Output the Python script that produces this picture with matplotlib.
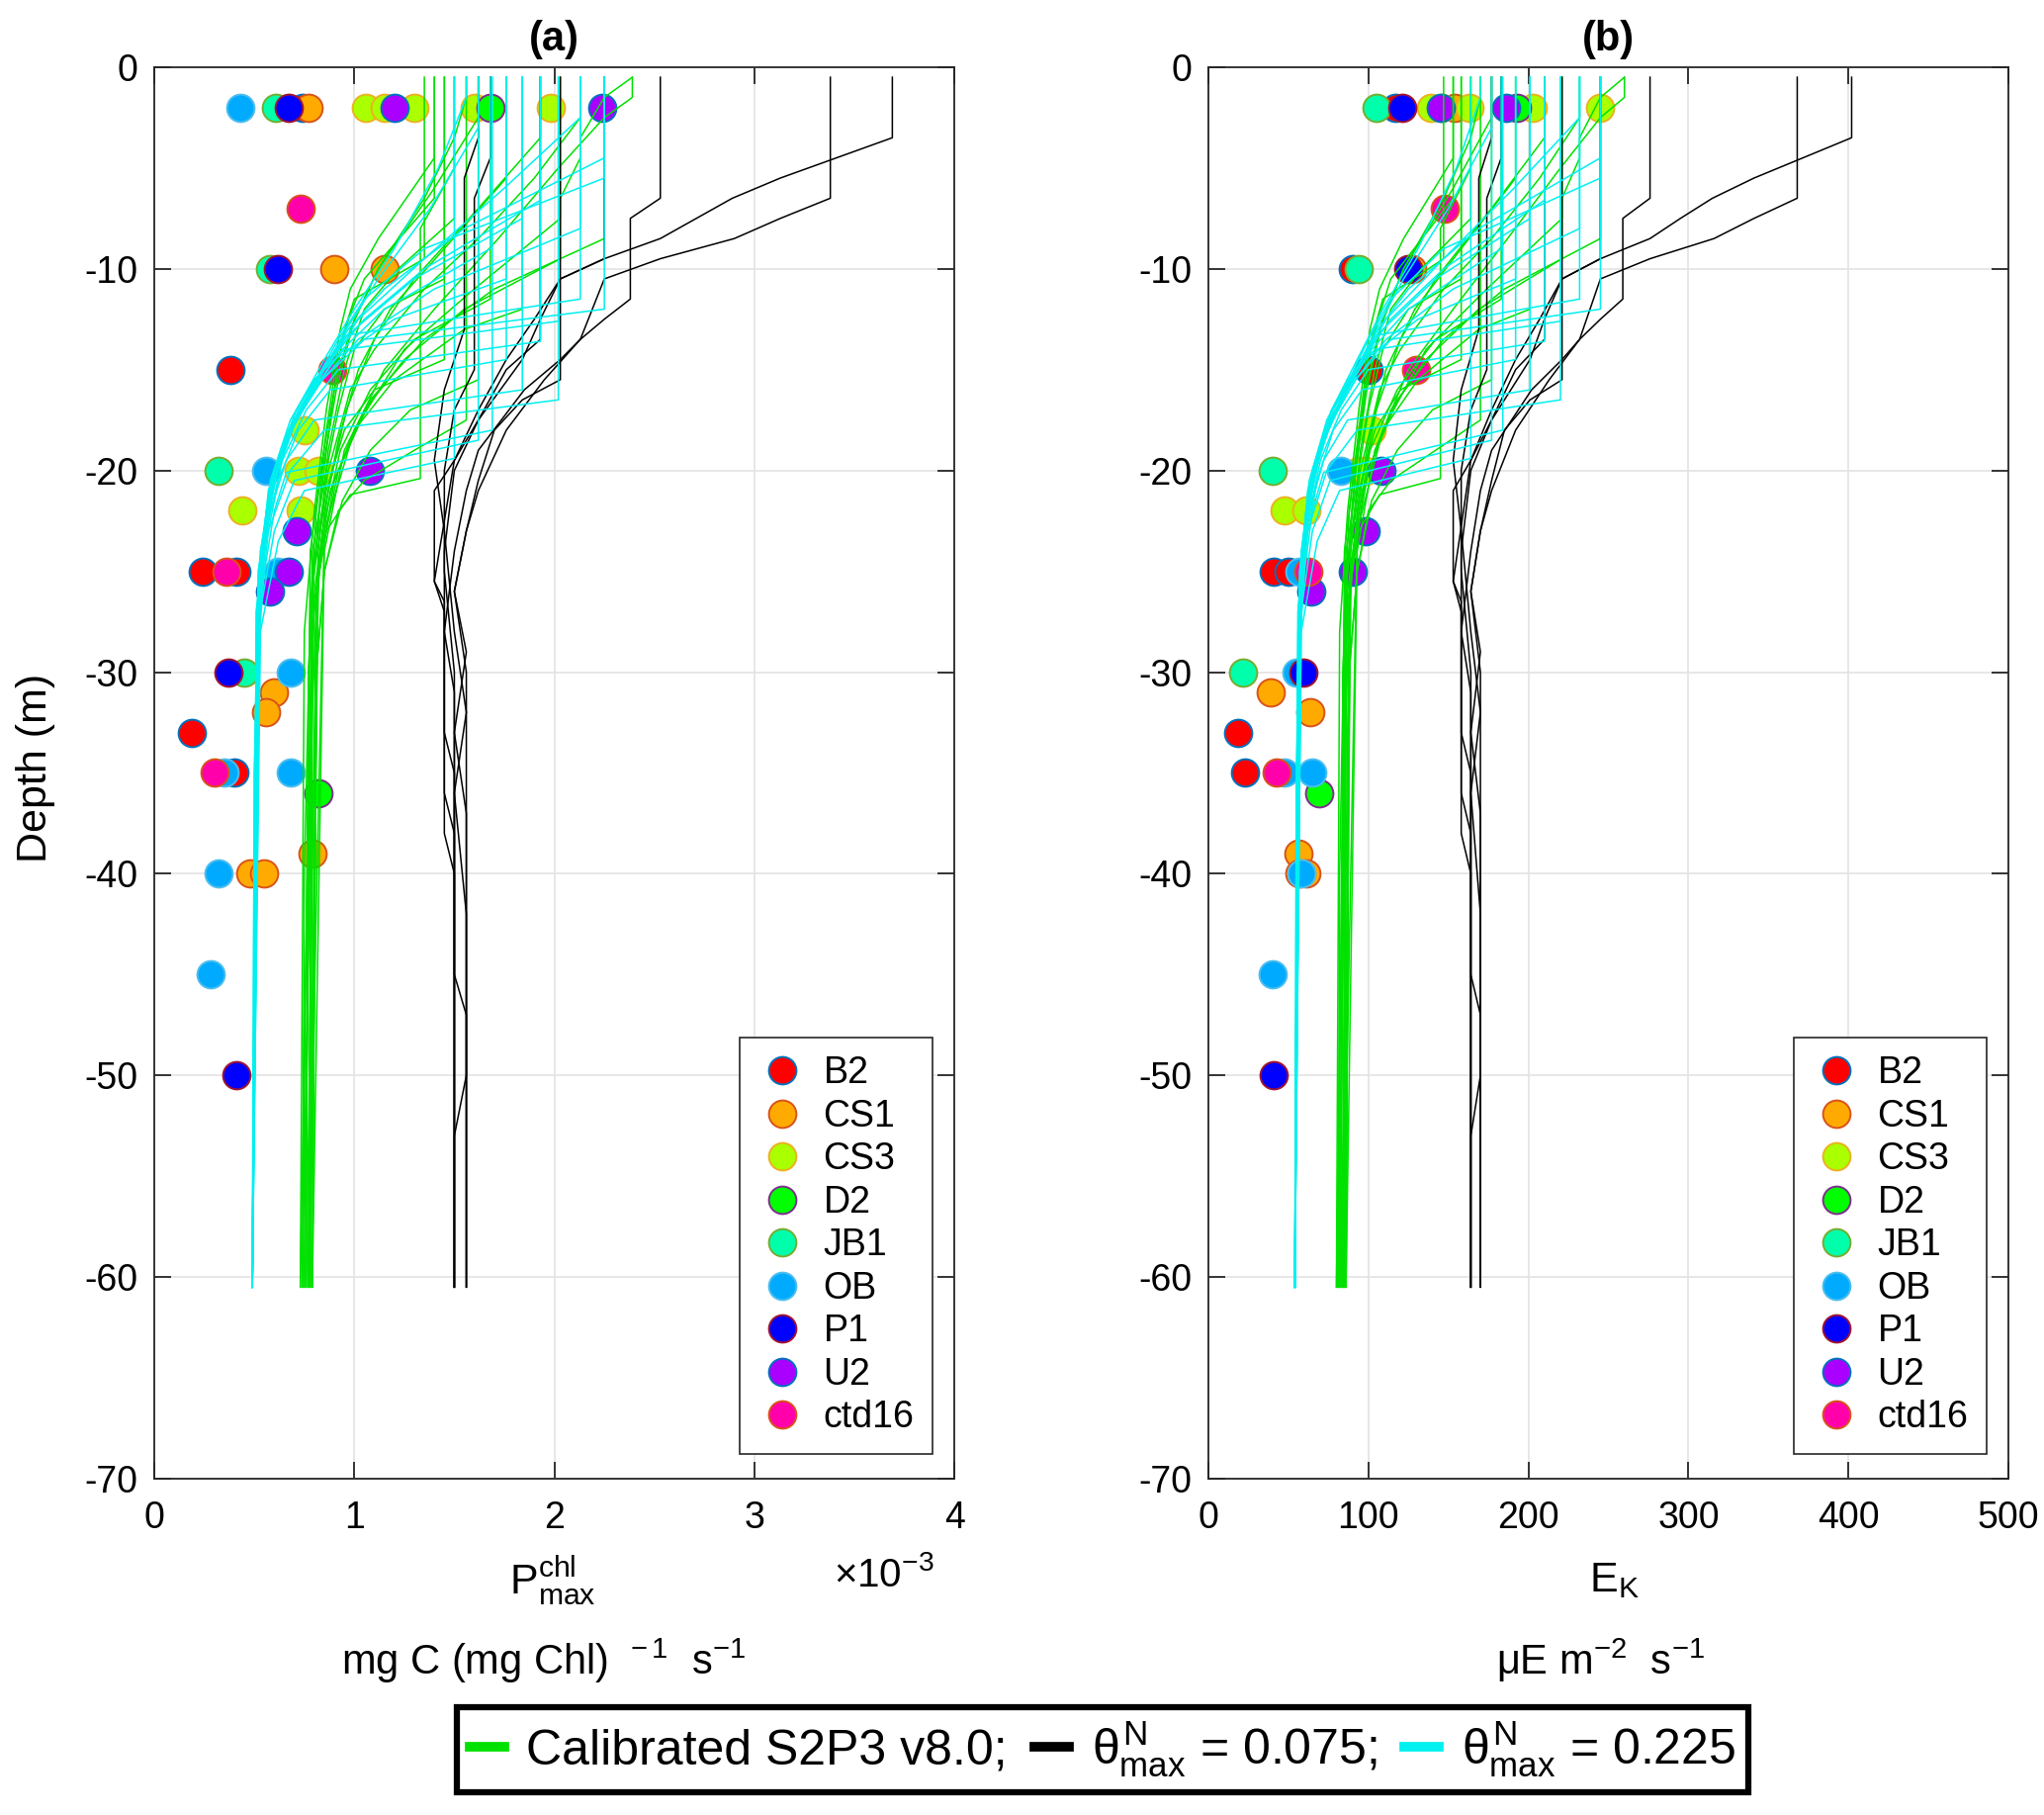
import matplotlib
matplotlib.use("Agg")
import matplotlib.pyplot as plt
from matplotlib.lines import Line2D

plt.rcParams['font.family'] = ['Liberation Sans', 'DejaVu Sans']
plt.rcParams['mathtext.fontset'] = 'custom'
plt.rcParams['mathtext.rm'] = 'Liberation Sans'
plt.rcParams['mathtext.it'] = 'Liberation Sans'
plt.rcParams['mathtext.bf'] = 'Liberation Sans:bold'
plt.rcParams['axes.unicode_minus'] = False

# ---------------- observation stations ----------------
STATIONS = ['B2', 'CS1', 'CS3', 'D2', 'JB1', 'OB', 'P1', 'U2', 'ctd16']
FACE_COLORS = ['#ff0000', '#ffaa00', '#aaff00', '#00ff00', '#00ffaa',
               '#00aaff', '#0000ff', '#aa00ff', '#ff00aa']
EDGE_COLORS = ['#0072bd', '#d95319', '#edb120', '#7e2f8e', '#77ac30',
               '#4dbeee', '#a2142f', '#0072bd', '#d95319']

# panel (a): Pmax^chl observations (x 1e-3)
A_STATION = (['B2'] * 6 + ['CS1'] * 8 + ['CS3'] * 10 + ['D2'] * 2 + ['JB1'] * 4
             + ['OB'] * 8 + ['P1'] * 4 + ['U2'] * 6 + ['ctd16'] * 4)
A_DEPTH = [-2, -15, -25, -25, -33, -35,
           -2, -10, -10, -31, -32, -39, -40, -40,
           -2, -2, -2, -2, -2, -18, -20, -20, -22, -22,
           -2, -36,
           -2, -10, -20, -30,
           -2, -20, -25, -30, -35, -35, -40, -45,
           -2, -10, -30, -50,
           -2, -2, -20, -23, -25, -26,
           -7, -15, -25, -35]
A_PMAX = [0.74, 0.38, 0.24, 0.41, 0.19, 0.40,
          0.77, 0.90, 1.15, 0.60, 0.56, 0.79, 0.48, 0.55,
          1.06, 1.15, 1.30, 1.60, 1.98, 0.75, 0.72, 0.82, 0.44, 0.73,
          1.68, 0.82,
          0.61, 0.58, 0.32, 0.45,
          0.43, 0.56, 0.62, 0.68, 0.35, 0.68, 0.32, 0.28,
          0.67, 0.62, 0.37, 0.41,
          1.20, 2.24, 1.08, 0.71, 0.67, 0.58,
          0.73, 0.89, 0.36, 0.30]

# panel (b): E_K observations
B_STATION = (['B2'] * 7 + ['CS1'] * 7 + ['CS3'] * 10 + ['D2'] * 2 + ['JB1'] * 4
             + ['OB'] * 7 + ['P1'] * 4 + ['U2'] * 6 + ['ctd16'] * 4)
B_DEPTH = [-2, -10, -15, -25, -25, -33, -35,
           -2, -10, -31, -32, -39, -40, -40,
           -2, -2, -2, -2, -2, -18, -20, -20, -22, -22,
           -2, -36,
           -2, -10, -20, -30,
           -20, -25, -30, -35, -35, -40, -45,
           -2, -10, -30, -50,
           -2, -2, -20, -23, -25, -26,
           -7, -15, -25, -35]
B_EK = [117, 90, 100, 41, 50, 18.5, 22.6,
        154, 127, 38.8, 63.5, 56, 61, 57,
        139, 146, 163, 203, 245, 102, 94, 98, 47.5, 61.4,
        193, 69.3,
        105, 94, 40, 21.6,
        83, 57, 55, 47.5, 65, 58, 40,
        121, 125, 59.3, 41,
        145, 186, 108, 98.3, 90, 64.5,
        148, 129.5, 62.7, 42.7]

# ---------------- model profiles ----------------
# Calibrated S2P3 v8.0 (green)
GREEN_DEPTH = [
    [-0.5, -9.5, -11.5, -14, -18, -22, -27, -40, -60.5],
    [-0.5, -4.5, -8.5, -11, -13, -17, -22, -28, -60.5],
    [-0.5, -14.5, -16, -18, -21, -25, -30, -60.5],
    [-0.5, -7.5, -10, -12, -15, -19, -24, -32, -60.5],
    [-0.5, -17.5, -19, -20.5, -22, -25, -30, -60.5],
    [-0.5, -2.5, -6, -10, -12.5, -16, -20, -26, -60.5],
    [-0.5, -11.5, -13.5, -16, -19, -23, -28, -60.5],
    [-0.5, -5.5, -9, -12, -15, -18.5, -22, -27, -60.5],
    [-0.5, -3.5, -7, -10.5, -13.5, -17, -21, -26, -60.5],
    [-0.5, -9.5, -12, -14.5, -17, -20.5, -26, -60.5],
    [-0.5, -8.5, -11, -13.5, -16.5, -20, -25, -60.5],
    [-0.5, -1.5, -2.5, -5, -8.5, -12, -15, -19, -24, -60.5],
    [-0.5, -5, -8, -20.4, -21.2, -23, -27, -60.5],
    [-0.5, -2.5, -5.5, -8.5, -11, -14, -16, -20, -25, -60.5],
    [-0.5, -12, -13, -15.5, -18, -21, -25, -60.5],
    [-0.5, -6.5, -10.5, -12.5, -14.5, -17.5, -21.5, -26, -60.5],
    [-0.5, -1.5, -3.5, -6.5, -10, -13, -16, -19.5, -24, -60.5],
    [-0.5, -15.5, -17, -19, -21.5, -25, -30, -60.5],
    [-0.5, -1.5, -3.5, -4.5, -6.5, -7.5, -11, -14, -18, -23, -60.5],
    [-0.5, -10.5, -12, -14, -17, -20, -24, -60.5],
]
GREEN_PMAX = [
    [1.35, 1.35, 1.00, 0.92, 0.86, 0.81, 0.78, 0.75, 0.74],
    [1.40, 1.40, 1.12, 0.98, 0.93, 0.86, 0.80, 0.75, 0.73],
    [1.45, 1.45, 1.10, 0.95, 0.86, 0.80, 0.77, 0.76],
    [1.50, 1.50, 1.22, 1.05, 0.95, 0.87, 0.82, 0.79, 0.78],
    [1.56, 1.56, 1.30, 1.05, 0.92, 0.85, 0.81, 0.79],
    [1.62, 1.62, 1.40, 1.12, 1.00, 0.91, 0.84, 0.79, 0.75],
    [1.68, 1.68, 1.30, 1.08, 0.93, 0.84, 0.79, 0.77],
    [1.76, 1.76, 1.45, 1.18, 1.02, 0.92, 0.85, 0.81, 0.78],
    [1.93, 1.93, 1.62, 1.30, 1.10, 0.96, 0.87, 0.80, 0.74],
    [2.03, 2.03, 1.55, 1.25, 1.05, 0.90, 0.81, 0.76],
    [2.25, 2.25, 1.70, 1.35, 1.08, 0.92, 0.82, 0.77],
    [2.39, 2.39, 2.25, 2.02, 1.72, 1.40, 1.15, 0.95, 0.85, 0.79],
    [1.50, 1.50, 1.33, 1.33, 0.98, 0.86, 0.79, 0.75],
    [2.13, 2.13, 1.90, 1.62, 1.35, 1.10, 0.98, 0.87, 0.79, 0.73],
    [1.84, 1.84, 1.55, 1.20, 1.00, 0.88, 0.82, 0.78],
    [1.40, 1.40, 1.05, 0.97, 0.92, 0.88, 0.83, 0.79, 0.77],
    [1.56, 1.56, 1.50, 1.35, 1.12, 0.98, 0.90, 0.84, 0.78, 0.74],
    [1.62, 1.62, 1.28, 1.08, 0.94, 0.85, 0.81, 0.79],
    [2.39, 2.25, 2.13, 2.13, 2.03, 2.03, 1.60, 1.25, 1.00, 0.85, 0.77],
    [1.45, 1.45, 1.15, 1.00, 0.92, 0.86, 0.79, 0.75],
]
GREEN_EK = [
    [147, 147, 109, 100, 94, 88, 85, 82, 81],
    [153, 153, 122, 107, 101, 94, 87, 82, 80],
    [158, 158, 120, 104, 94, 87, 84, 83],
    [164, 164, 133, 114, 104, 95, 89, 86, 85],
    [170, 170, 142, 114, 100, 93, 88, 86],
    [177, 177, 153, 122, 109, 99, 92, 86, 82],
    [183, 183, 142, 118, 101, 92, 86, 84],
    [192, 192, 158, 129, 111, 100, 93, 88, 85],
    [210, 210, 177, 142, 120, 105, 95, 87, 81],
    [221, 221, 169, 136, 114, 98, 88, 83],
    [245, 245, 185, 147, 118, 100, 89, 84],
    [260, 260, 245, 220, 187, 153, 125, 104, 93, 86],
    [164, 164, 145, 145, 107, 94, 86, 82],
    [232, 232, 207, 177, 147, 120, 107, 95, 86, 80],
    [201, 201, 169, 131, 109, 96, 89, 85],
    [153, 153, 114, 106, 100, 96, 90, 86, 84],
    [170, 170, 164, 147, 122, 107, 98, 92, 85, 81],
    [177, 177, 140, 118, 102, 93, 88, 86],
    [260, 245, 232, 232, 221, 221, 174, 136, 109, 93, 84],
    [158, 158, 125, 109, 100, 94, 86, 82],
]

# theta_max^N = 0.075 (black)
BLACK_DEPTH = [
    [-0.5, -3.5, -5.5, -6.5, -7.5, -8.5, -9.5, -10.5, -12.5, -14.5, -17, -19.5, -25.5, -27, -33, -35, -60.5],
    [-0.5, -6.5, -7.5, -8.5, -9.5, -10.5, -13.5, -15.5, -18, -21, -23, -26, -30, -60.5],
    [-0.5, -6.5, -7.5, -11.5, -12.5, -13.5, -14.5, -16, -19, -21, -24, -28, -31, -60.5],
    [-0.5, -9.5, -10.5, -12.5, -14.5, -17.5, -20, -24, -38, -40, -60.5],
    [-0.5, -15.5, -16.5, -18, -20.5, -23, -26, -29, -33, -37, -60.5],
    [-0.5, -13.5, -15, -17.5, -19.5, -21, -25.5, -26.5, -36, -38, -60.5],
    [-0.5, -4.5, -6.5, -15, -17, -20, -25, -30, -45, -47, -60.5],
    [-0.5, -3.5, -5.5, -13, -16, -19.5, -23, -28, -32, -36, -42, -50, -53, -60.5],
]
BLACK_PMAX = [
    [3.69, 3.69, 3.13, 2.89, 2.71, 2.53, 2.25, 2.03, 1.90, 1.76, 1.62, 1.50, 1.40, 1.45, 1.45, 1.50, 1.50],
    [3.38, 3.38, 3.13, 2.90, 2.53, 2.25, 2.13, 1.95, 1.76, 1.62, 1.56, 1.50, 1.56, 1.56],
    [2.53, 2.53, 2.38, 2.38, 2.25, 2.13, 2.03, 1.85, 1.62, 1.56, 1.50, 1.45, 1.50, 1.50],
    [2.25, 2.25, 2.03, 1.93, 1.84, 1.62, 1.50, 1.45, 1.45, 1.50, 1.50],
    [2.03, 2.03, 1.84, 1.70, 1.62, 1.56, 1.50, 1.56, 1.50, 1.56, 1.56],
    [1.93, 1.93, 1.76, 1.62, 1.50, 1.40, 1.40, 1.45, 1.45, 1.50, 1.50],
    [1.68, 1.68, 1.60, 1.60, 1.50, 1.45, 1.45, 1.50, 1.50, 1.56, 1.56],
    [1.62, 1.62, 1.55, 1.55, 1.45, 1.40, 1.45, 1.50, 1.56, 1.50, 1.56, 1.56, 1.50, 1.50],
]
BLACK_EK = [
    [402, 402, 341, 315, 295, 276, 245, 221, 207, 192, 177, 164, 153, 158, 158, 164, 164],
    [368, 368, 341, 316, 276, 245, 232, 213, 192, 177, 170, 164, 170, 170],
    [276, 276, 259, 259, 245, 232, 221, 202, 177, 170, 164, 158, 164, 164],
    [245, 245, 221, 210, 201, 177, 164, 158, 158, 164, 164],
    [221, 221, 201, 185, 177, 170, 164, 170, 164, 170, 170],
    [210, 210, 192, 177, 164, 153, 153, 158, 158, 164, 164],
    [183, 183, 174, 174, 164, 158, 158, 164, 164, 170, 170],
    [177, 177, 169, 169, 158, 153, 158, 164, 170, 164, 170, 170, 164, 164],
]

# theta_max^N = 0.225 (cyan)
CYAN_DEPTH = [
    [-0.5, -4.5, -8, -11, -13, -15, -17.5, -20.5, -25, -35, -60.5],
    [-0.5, -5.5, -9, -11.5, -13.5, -16, -19, -23, -30, -60.5],
    [-0.5, -11.5, -13.3, -15, -17, -20, -25, -35, -60.5],
    [-0.5, -12.6, -14, -15.5, -17.5, -20.5, -25, -60.5],
    [-0.5, -6.6, -10, -12.5, -14.5, -17, -20, -25, -60.5],
    [-0.5, -13.6, -15, -17, -19.5, -23, -30, -60.5],
    [-0.5, -7.5, -10.5, -13, -15, -17.5, -21, -26, -60.5],
    [-0.5, -14.5, -16, -18, -20.5, -24, -30, -60.5],
    [-0.5, -18, -20.1, -22, -25, -30, -60.5],
    [-0.5, -18.5, -20.5, -23, -27, -60.5],
    [-0.5, -19.4, -21, -23.5, -28, -60.5],
    [-0.5, -3, -7, -10.5, -13, -15.5, -18, -21, -26, -60.5],
    [-0.5, -9, -12, -14, -16, -18.5, -22, -27, -60.5],
    [-0.5, -10.5, -12.5, -14.5, -16.5, -19, -23, -28, -60.5],
    [-0.5, -2.5, -6, -9.5, -12.5, -15, -17.5, -21, -26, -60.5],
    [-0.5, -16, -17.5, -19.5, -22, -26, -60.5],
    [-0.5, -1.5, -5, -9, -12, -14.5, -17, -20, -24, -60.5],
    [-0.5, -12, -13.5, -15.5, -18, -21, -26, -60.5],
    [-0.5, -16.5, -18, -20, -23, -28, -60.5],
    [-0.5, -8, -11, -13.5, -15.5, -18, -21.5, -27, -60.5],
]
CYAN_PMAX = [
    [2.25, 2.25, 1.55, 1.15, 0.97, 0.84, 0.71, 0.60, 0.53, 0.50, 0.49],
    [2.25, 2.25, 1.35, 1.05, 0.92, 0.78, 0.64, 0.55, 0.51, 0.49],
    [2.13, 2.13, 0.96, 0.84, 0.71, 0.60, 0.52, 0.50, 0.49],
    [2.02, 2.02, 0.95, 0.80, 0.68, 0.58, 0.52, 0.49],
    [1.93, 1.93, 1.35, 1.05, 0.88, 0.72, 0.61, 0.53, 0.49],
    [1.93, 1.93, 0.92, 0.76, 0.64, 0.56, 0.51, 0.49],
    [1.84, 1.84, 1.30, 1.00, 0.85, 0.70, 0.58, 0.52, 0.49],
    [1.76, 1.76, 0.88, 0.72, 0.62, 0.55, 0.51, 0.49],
    [1.69, 1.69, 0.66, 0.60, 0.55, 0.51, 0.49],
    [1.62, 1.62, 0.70, 0.60, 0.53, 0.49],
    [1.50, 1.50, 0.75, 0.62, 0.53, 0.49],
    [1.62, 1.62, 1.38, 1.12, 0.96, 0.82, 0.68, 0.58, 0.52, 0.49],
    [1.68, 1.68, 1.15, 0.94, 0.80, 0.66, 0.56, 0.51, 0.49],
    [1.76, 1.76, 1.20, 0.90, 0.76, 0.64, 0.55, 0.51, 0.49],
    [2.13, 2.13, 1.75, 1.35, 1.02, 0.85, 0.70, 0.58, 0.52, 0.49],
    [1.84, 1.84, 0.80, 0.66, 0.58, 0.52, 0.49],
    [1.56, 1.56, 1.42, 1.20, 1.00, 0.85, 0.71, 0.60, 0.53, 0.49],
    [2.25, 2.25, 1.05, 0.84, 0.67, 0.57, 0.52, 0.49],
    [2.02, 2.02, 0.85, 0.68, 0.57, 0.52, 0.49],
    [2.13, 2.13, 1.40, 1.02, 0.84, 0.68, 0.57, 0.51, 0.49],
]
CYAN_EK = [
    [245, 245, 169, 125, 106, 92, 77, 65, 58, 55, 54],
    [245, 245, 147, 114, 100, 85, 70, 60, 56, 54],
    [232, 232, 105, 92, 77, 65, 57, 55, 54],
    [220, 220, 104, 87, 74, 63, 57, 54],
    [210, 210, 147, 114, 96, 78, 66, 58, 54],
    [210, 210, 100, 83, 70, 61, 56, 54],
    [201, 201, 142, 109, 93, 76, 63, 57, 54],
    [192, 192, 96, 78, 68, 60, 56, 54],
    [184, 184, 72, 65, 60, 56, 54],
    [177, 177, 76, 65, 58, 54],
    [164, 164, 82, 68, 58, 54],
    [177, 177, 150, 122, 105, 89, 74, 63, 57, 54],
    [183, 183, 125, 102, 87, 72, 61, 56, 54],
    [192, 192, 131, 98, 83, 70, 60, 56, 54],
    [232, 232, 191, 147, 111, 93, 76, 63, 57, 54],
    [201, 201, 87, 72, 63, 57, 54],
    [170, 170, 155, 131, 109, 93, 77, 65, 58, 54],
    [245, 245, 114, 92, 73, 62, 57, 54],
    [220, 220, 93, 74, 62, 57, 54],
    [232, 232, 153, 111, 92, 74, 62, 56, 54],
]

Y_TICKS = [-70, -60, -50, -40, -30, -20, -10, 0]
A_XTICKS = [0, 1, 2, 3, 4]
B_XTICKS = [0, 100, 200, 300, 400, 500]

GREEN = '#00e100'
CYAN = '#00f0f0'
BLACK = '#000000'
AXCOL = '#262626'

fig = plt.figure(figsize=(20.67, 18.35), dpi=100)
ax_a = fig.add_axes([0.0755, 0.1853, 0.3914, 0.7777])
ax_b = fig.add_axes([0.5912, 0.1853, 0.3914, 0.7777])


def draw_panel(ax, stn, dep, val, gvals, kvals, cvals, xticks, title):
    # observations
    for s, fc, ec in zip(STATIONS, FACE_COLORS, EDGE_COLORS):
        xs = [v for st, v in zip(stn, val) if st == s]
        ys = [d for st, d in zip(stn, dep) if st == s]
        ax.plot(xs, ys, ls='none', marker='o', ms=20, mfc=fc, mec=ec,
                mew=1.4, zorder=2)
    # model profiles
    for d, v in zip(GREEN_DEPTH, gvals):
        ax.plot(v, d, color=GREEN, lw=1.1, zorder=3)
    for d, v in zip(BLACK_DEPTH, kvals):
        ax.plot(v, d, color=BLACK, lw=1.1, zorder=3)
    for d, v in zip(CYAN_DEPTH, cvals):
        ax.plot(v, d, color=CYAN, lw=1.1, zorder=3)

    ax.set_xlim(xticks[0], xticks[-1])
    ax.set_ylim(-70, 0)
    ax.set_xticks(xticks)
    ax.set_yticks(Y_TICKS)
    ax.grid(True, color='#e3e3e3', lw=1.2)
    ax.set_axisbelow(True)
    for sp in ax.spines.values():
        sp.set_color(AXCOL)
        sp.set_linewidth(1.3)
    ax.tick_params(axis='both', direction='in', length=12, width=1.3,
                   top=True, right=True, labelsize=27, color=AXCOL)
    ax.tick_params(axis='x', pad=16)
    ax.tick_params(axis='y', pad=12)
    ax.set_title(title, fontsize=30, fontweight='bold', pad=12)

    handles = [Line2D([], [], ls='none', marker='o', ms=20, mfc=fc, mec=ec, mew=1.4)
               for fc, ec in zip(FACE_COLORS, EDGE_COLORS)]
    leg = ax.legend(handles, STATIONS, loc='lower right',
                    bbox_to_anchor=(0.973, 0.0175), borderaxespad=0,
                    fontsize=27, frameon=True, fancybox=False,
                    edgecolor=AXCOL, framealpha=1, labelspacing=0.2,
                    handletextpad=0.45, borderpad=0.5, handlelength=1.3)
    leg.get_frame().set_linewidth(1.2)
    leg.set_zorder(10)


draw_panel(ax_a, A_STATION, A_DEPTH, A_PMAX, GREEN_PMAX, BLACK_PMAX, CYAN_PMAX,
           A_XTICKS, '(a)')
draw_panel(ax_b, B_STATION, B_DEPTH, B_EK, GREEN_EK, BLACK_EK, CYAN_EK,
           B_XTICKS, '(b)')

# axis labels
ax_a.text(0.4975, -0.072, r'P$^{\mathrm{chl}}_{\mathrm{max}}$', transform=ax_a.transAxes,
          fontsize=31, ha='center', va='center')
ax_a.text(0.487, -0.129, r'mg C (mg Chl)$^{\ \ -1}$  s$^{-1}$', transform=ax_a.transAxes,
          fontsize=30, ha='center', va='center')
ax_a.text(0.912, -0.068, r'$\times$10$^{-3}$', transform=ax_a.transAxes,
          fontsize=29, ha='center', va='center')
ax_b.text(0.507, -0.072, r'E$_{\mathrm{K}}$', transform=ax_b.transAxes,
          fontsize=31, ha='center', va='center')
ax_b.text(0.49, -0.129, r'$\mu$E m$^{-2}$  s$^{-1}$', transform=ax_b.transAxes,
          fontsize=30, ha='center', va='center')
fig.text(0.0174, 0.577, 'Depth (m)', rotation=90, fontsize=31,
         ha='center', va='center')

# bottom legend
model_handles = [Line2D([0], [0], color=GREEN, lw=7),
                 Line2D([0], [0], color=BLACK, lw=7),
                 Line2D([0], [0], color=CYAN, lw=7)]
model_labels = ['Calibrated S2P3 v8.0;',
                r'$\theta^{\mathrm{N}}_{\mathrm{max}}$ = 0.075;',
                r'$\theta^{\mathrm{N}}_{\mathrm{max}}$ = 0.225']
bl = fig.legend(model_handles, model_labels, loc='center',
                bbox_to_anchor=(0.5394, 0.0362), ncol=3, fontsize=36,
                frameon=True, fancybox=False, edgecolor='black', framealpha=1,
                handlelength=0.7, handletextpad=0.45, columnspacing=0.55,
                borderpad=0.25, borderaxespad=0)
bl.get_frame().set_linewidth(4.5)

fig.savefig('out.png', dpi=100)
